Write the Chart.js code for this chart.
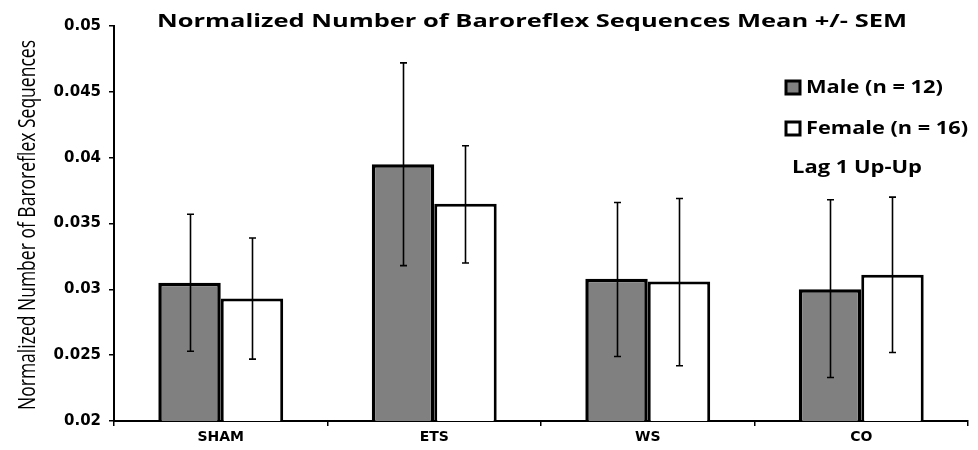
<!DOCTYPE html>
<html><head><meta charset="utf-8">
<script src="https://cdn.jsdelivr.net/npm/chart.js@4/dist/chart.umd.min.js"></script>
<style>html,body{margin:0;padding:0;background:#fff}#wrap{width:978px;height:450px}</style>
</head><body><div id="wrap"><canvas id="c" width="978" height="450"></canvas></div>
<script>
const categories = ["SHAM", "ETS", "WS", "CO"];
const maleMean = [0.0305, 0.0395, 0.0308, 0.0300];
const maleErrHigh = [0.0357, 0.0472, 0.0366, 0.0368];
const maleErrLow = [0.0253, 0.0318, 0.0249, 0.0233];
const femaleMean = [0.0293, 0.0365, 0.0306, 0.0311];
const femaleErrHigh = [0.0339, 0.0409, 0.0369, 0.0370];
const femaleErrLow = [0.0247, 0.0320, 0.0242, 0.0252];
const seriesLabels = ["Male (n = 12)", "Female (n = 16)"];
const titleText = "Normalized Number of Baroreflex Sequences Mean +/- SEM";
const yTitle = "Normalized Number of Baroreflex Sequences";
const noteText = "Lag 1 Up-Up";

const errors = [[maleErrLow, maleErrHigh], [femaleErrLow, femaleErrHigh]];

function fitText(ctx, text, x, y, width, font, align) {
  ctx.save();
  ctx.font = font;
  const w = ctx.measureText(text).width;
  const s = width / w;
  ctx.translate(x, y);
  ctx.scale(s, 1);
  ctx.textAlign = align || 'left';
  ctx.fillText(text, 0, 0);
  ctx.restore();
}

const errorBarPlugin = {
  id: 'errbars',
  afterDatasetsDraw(chart) {
    const ctx = chart.ctx, y = chart.scales.y;
    ctx.save();
    ctx.strokeStyle = '#000'; ctx.lineWidth = 1.6;
    chart.data.datasets.forEach((ds, di) => {
      const meta = chart.getDatasetMeta(di);
      meta.data.forEach((bar, i) => {
        const x = Math.round(bar.x) + 0.5;
        const yl = y.getPixelForValue(errors[di][0][i]);
        const yh = y.getPixelForValue(errors[di][1][i]);
        ctx.beginPath();
        ctx.moveTo(x, yl); ctx.lineTo(x, yh);
        ctx.moveTo(x - 3.5, yl); ctx.lineTo(x + 3.5, yl);
        ctx.moveTo(x - 3.5, yh); ctx.lineTo(x + 3.5, yh);
        ctx.stroke();
      });
    });
    ctx.restore();
  }
};

const textPlugin = {
  id: 'texts',
  afterDraw(chart) {
    const ctx = chart.ctx;
    ctx.save();
    ctx.fillStyle = '#000';
    ctx.textBaseline = 'middle';
    fitText(ctx, titleText, 157, 22, 750, 'bold 18px "Open Sans"', 'left');
    // y title
    ctx.save();
    ctx.translate(28, 410);
    ctx.rotate(-Math.PI / 2);
    fitText(ctx, yTitle, 0, 0, 370, '23px "Open Sans"', 'left');
    ctx.restore();
    // legend
    const ly = [87, 128];
    const lw = [137, 162];
    chart.data.datasets.forEach((ds, i) => {
      ctx.fillStyle = ds.backgroundColor;
      ctx.fillRect(786, ly[i] - 6, 14, 13);
      ctx.strokeStyle = '#000'; ctx.lineWidth = 3;
      ctx.strokeRect(786, ly[i] - 6, 14, 13);
      ctx.fillStyle = '#000';
      fitText(ctx, ds.label, 806, ly[i] + 1, lw[i], 'bold 18px "Open Sans"', 'left');
    });
    fitText(ctx, noteText, 792, 168, 130, 'bold 17px "Open Sans"', 'left');
    ctx.restore();
  }
};

new Chart(document.getElementById('c'), {
  type: 'bar',
  data: {
    labels: categories,
    datasets: [
      { label: seriesLabels[0], data: maleMean, backgroundColor: '#808080', borderColor: '#000', borderWidth: 3.5 },
      { label: seriesLabels[1], data: femaleMean, backgroundColor: '#ffffff', borderColor: '#000', borderWidth: 3 }
    ]
  },
  options: {
    responsive: false,
    animation: false,
    devicePixelRatio: 1,
    layout: { padding: { top: 26, right: 10, left: 0, bottom: 0 } },
    plugins: { legend: { display: false }, tooltip: { enabled: false }, title: { display: false } },
    datasets: { bar: { categoryPercentage: 0.585, barPercentage: 1.0 } },
    scales: {
      x: {
        grid: { display: true, drawOnChartArea: false, drawTicks: true, tickLength: 5, color: '#000', lineWidth: 1.5, offset: true },
        border: { color: '#000', width: 2 },
        ticks: { color: '#000', font: { family: 'DejaVu Sans', weight: 'bold', size: 14 }, padding: 3 },
        afterFit(s) { s.height = 29; }
      },
      y: {
        min: 0.02, max: 0.05,
        grid: { display: true, drawOnChartArea: false, drawTicks: true, tickLength: 5, color: '#000', lineWidth: 1.5 },
        border: { color: '#000', width: 2 },
        ticks: { stepSize: 0.005, color: '#000', font: { family: 'DejaVu Sans', weight: 'bold', size: 15 }, padding: 8,
          callback: v => String(Math.round(v * 1000) / 1000) },
        afterFit(s) { s.width = 114; }
      }
    }
  },
  plugins: [errorBarPlugin, textPlugin]
});
</script>
</body></html>
